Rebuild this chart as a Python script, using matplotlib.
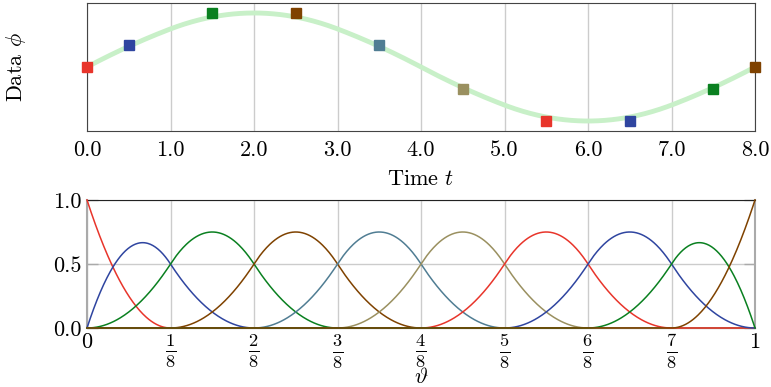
import matplotlib
matplotlib.use('Agg')
import matplotlib.pyplot as plt
import numpy as np

plt.rcParams['font.family'] = 'serif'
plt.rcParams['font.serif'] = ['cmr10', 'DejaVu Serif']
plt.rcParams['mathtext.fontset'] = 'cm'
plt.rcParams['axes.unicode_minus'] = False
plt.rcParams['axes.formatter.use_mathtext'] = True

# quadratic B-spline on 8 uniform intervals
degree = 2
inner_knots = [0, 1/8, 2/8, 3/8, 4/8, 5/8, 6/8, 7/8, 1]
knots = [0, 0] + inner_knots + [1, 1]

# control points
ctrl_t = [0.0, 0.5, 1.5, 2.5, 3.5, 4.5, 5.5, 6.5, 7.5, 8.0]
ctrl_phi = [0.0, 0.41, 1.0, 1.0, 0.41, -0.41, -1.0, -1.0, -0.41, 0.0]

colors = ['#e8352b', '#2f45a0', '#0a8020', '#7f4200', '#507d93',
          '#9a9060', '#e8352b', '#2f45a0', '#0a8020', '#7f4200']

top_ticks = [0, 1, 2, 3, 4, 5, 6, 7, 8]
top_ticklabels = ['0.0', '1.0', '2.0', '3.0', '4.0', '5.0', '6.0', '7.0', '8.0']
bot_ticklabels = ['$0$', r'$\frac{1}{8}$', r'$\frac{2}{8}$', r'$\frac{3}{8}$',
                  r'$\frac{4}{8}$', r'$\frac{5}{8}$', r'$\frac{6}{8}$',
                  r'$\frac{7}{8}$', '$1$']


def basis(knots, p, x):
    k = np.asarray(knots, dtype=float)
    n = len(k) - 1
    N = np.zeros((n, len(x)))
    for i in range(n):
        if k[i] < k[i + 1]:
            N[i] = (x >= k[i]) & (x < k[i + 1])
    # right end belongs to last non-empty interval
    last = max(i for i in range(n) if k[i] < k[i + 1])
    N[last, x == k[-1]] = 1.0
    for d in range(1, p + 1):
        M = np.zeros((n - d, len(x)))
        for i in range(n - d):
            a = k[i + d] - k[i]
            b = k[i + d + 1] - k[i + 1]
            if a > 0:
                M[i] += (x - k[i]) / a * N[i]
            if b > 0:
                M[i] += (k[i + d + 1] - x) / b * N[i + 1]
        N = M
    return N


theta = np.linspace(0, 1, 801)
B = basis(knots, degree, theta)

fig = plt.figure(figsize=(7.71, 3.87), dpi=100)
ax1 = fig.add_axes([87/771, 1 - 131/387, 668/771, 128/387])
ax2 = fig.add_axes([87/771, 1 - 328/387, 668/771, 128/387])

# top panel: spline curve + control points
curve = np.asarray(ctrl_phi) @ B
ax1.plot(theta * 8, curve, color='#c8f0c8', lw=3.5, zorder=2)
for t, v, c in zip(ctrl_t, ctrl_phi, colors):
    ax1.plot(t, v, marker='s', ms=7.5, color=c, mec=c, ls='none', zorder=3, clip_on=False)
ax1.set_xlim(0, 8)
ax1.set_ylim(-1.185, 1.185)
ax1.set_xticks(top_ticks)
ax1.set_xticklabels(top_ticklabels, fontsize=16)
ax1.set_yticks([])
ax1.tick_params(axis='x', length=0, pad=7)
ax1.grid(axis='x', color='#cccccc', lw=1)
ax1.set_axisbelow(True)
for s in ax1.spines.values():
    s.set_color('#444444')
ax1.set_xlabel('Time $t$', fontsize=16, va='center')
ax1.xaxis.set_label_coords(0.5, -0.38)
ax1.set_ylabel(r'Data $\phi$', fontsize=16, va='center')
ax1.yaxis.set_label_coords(-0.106, 0.5)

# bottom panel: basis functions
for i in range(B.shape[0]):
    ax2.plot(theta, B[i], color=colors[i], lw=1.1, clip_on=False, zorder=3)
ax2.set_xlim(0, 1)
ax2.set_ylim(0, 1)
ax2.set_xticks(inner_knots)
ax2.set_xticklabels(bot_ticklabels)
for j, lab in enumerate(ax2.get_xticklabels()):
    lab.set_fontsize(16 if j in (0, len(bot_ticklabels) - 1) else 19)
ax2.set_yticks([0, 0.5, 1])
ax2.set_yticklabels(['0.0', '0.5', '1.0'], fontsize=16)
ax2.tick_params(axis='x', length=0, pad=3)
ax2.tick_params(axis='y', direction='in', color='#aaaaaa', length=8, width=1,
                right=True, pad=4)
ax2.grid(color='#cccccc', lw=1)
ax2.set_axisbelow(True)
ax2.spines['top'].set_color('#222222')
ax2.spines['bottom'].set_color('#222222')
ax2.spines['left'].set_color('#aaaaaa')
ax2.spines['right'].set_color('#aaaaaa')
ax2.spines['left'].set_linewidth(1.5)
ax2.spines['right'].set_linewidth(1.5)
ax2.set_xlabel(r'$\vartheta$', fontsize=16, va='center')
ax2.xaxis.set_label_coords(0.5, -0.385)

fig.savefig('out.png', dpi=100)
